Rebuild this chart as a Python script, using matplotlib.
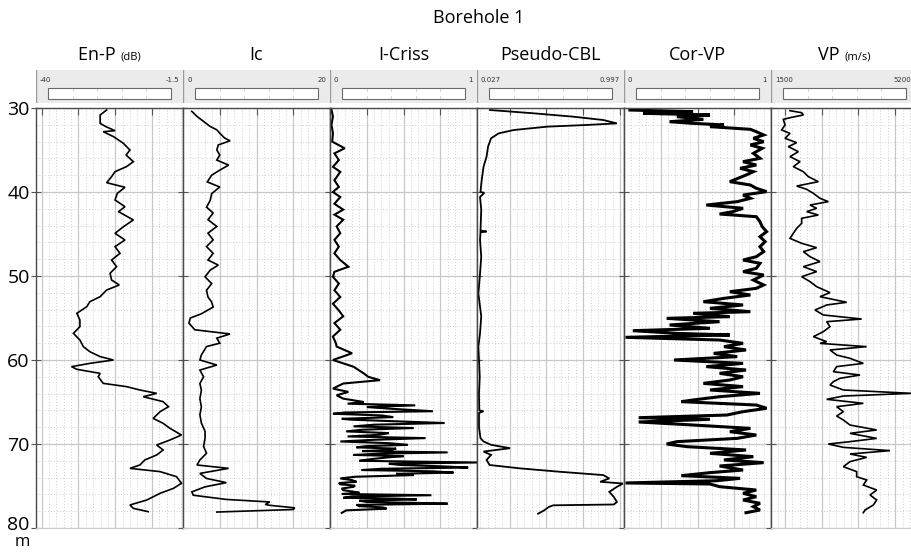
import matplotlib
matplotlib.use('Agg')
import matplotlib.pyplot as plt
import matplotlib.transforms as mtransforms
from matplotlib.patches import Rectangle
from matplotlib.ticker import MultipleLocator

plt.rcParams['font.family'] = ['Open Sans', 'DejaVu Sans']

# ---------------- data ----------------
chart_title = 'Borehole 1'
titles = ['En-P', 'Ic', 'I-Criss', 'Pseudo-CBL', 'Cor-VP', 'VP']
units = ['(dB)', '', '', '', '', '(m/s)']
scale_min = [-40, 0, 0, 0.027, 0, 1500]
scale_max = [-1.5, 20, 1, 0.997, 1, 5200]
scale_min_labels = ['-40', '0', '0', '0.027', '0', '1500']
scale_max_labels = ['-1.5', '20', '1', '0.997', '1', '5200']
depth_ticks = [30, 40, 50, 60, 70, 80]
depth_unit = 'm'

enp_depth = [30.24, 30.83, 31.83, 32.22, 32.70, 32.82, 33.41, 34.21, 35.0, 35.6, 36.39, 36.98,
             37.58, 38.17, 38.89, 39.44, 40.16, 40.95, 41.75, 42.34, 43.33, 44.13, 44.92,
             45.71, 46.51, 47.30, 48.10, 48.89, 49.68, 50.48, 51.07, 51.67, 52.46, 53.06,
             53.65, 54.44, 55.24, 56.03, 56.83, 57.62, 58.41, 59.01, 59.6, 60.0, 60.4, 60.79,
             61.11, 61.59, 61.99, 62.78, 63.17, 63.57, 63.97, 64.37, 64.96, 65.56, 66.15,
             66.95, 67.54, 68.14, 68.93, 69.52, 70.12, 70.71, 71.31, 71.9, 72.5, 72.9, 73.29,
             73.89, 74.68, 75.28, 75.87, 76.67, 77.26, 77.66, 78.06]
enp_value = [-21.5, -23.2, -23.2, -21.7, -19.3, -22.4, -19.7, -17.1, -15.4, -16.4, -14.5, -16.3,
             -19.3, -20.2, -21.5, -16.7, -18.7, -19.3, -16.7, -18.4, -14.5, -17.1, -19.3,
             -16.7, -19.3, -18.0, -20.2, -18.9, -20.6, -20.2, -18.2, -21.5, -23.2, -25.9,
             -26.7, -29.3, -28.5, -28.5, -30.2, -28.5, -27.6, -25.9, -23.2, -19.7, -25.9, -30.7,
             -29.3, -23.2, -23.7, -22.4, -16.3, -12.8, -8.4, -11.9, -6.7, -5.3, -7.5,
             -9.3, -6.7, -4.9, -1.9, -4.9, -8.4, -6.7, -8.4, -11.5, -12.8, -15.4, -7.5,
             -3.2, -1.9, -4.0, -7.5, -11.0, -15.4, -14.5, -10.6]

ic_depth = [30.4, 31.0, 31.6, 32.2, 32.6, 33.0, 33.6, 33.9, 34.4, 35.0, 35.6, 36.2, 36.8, 37.4,
            38.0, 38.8, 39.4, 40.2, 41.0, 41.8, 42.5, 43.3, 44.1, 44.9, 45.7, 46.5, 47.3, 48.1,
            48.7, 49.3, 50.1, 50.9, 51.7, 52.5, 53.1, 53.7, 54.5, 55.0, 55.6, 56.4, 56.9, 57.4,
            58.0, 58.4, 59.4, 60.0, 60.6, 61.2, 62.0, 62.8, 63.6, 64.6, 65.6, 66.5, 67.5, 68.5,
            69.3, 70.3, 71.1, 71.9, 72.5, 72.9, 73.5, 74.1, 74.6, 75.1, 75.7, 76.1, 76.6, 76.9,
            77.2, 77.3, 77.6, 77.8, 78.1]
ic_value = [1.2, 1.9, 2.8, 3.7, 4.6, 5.0, 5.7, 6.4, 4.8, 4.6, 5.0, 4.6, 6.2, 5.0,
            3.9, 3.3, 5.0, 3.9, 3.7, 3.2, 4.1, 3.4, 4.6, 3.4, 4.1, 3.2, 4.1, 3.4,
            4.8, 3.7, 3.0, 3.9, 3.2, 3.4, 3.9, 4.1, 2.5, 1.0, 0.8, 1.6, 6.4, 4.6,
            5.0, 3.2, 2.5, 2.3, 4.6, 2.3, 2.8, 2.3, 2.5, 2.3, 2.5, 2.3, 2.5, 3.0,
            3.0, 2.8, 3.2, 2.3, 1.9, 6.2, 2.3, 3.2, 5.9, 3.0, 1.2, 1.4, 5.9, 11.8,
            11.2, 11.8, 15.2, 15.0, 4.6]

icriss_depth = [30.2, 31.0, 32.0, 33.0, 34.0, 34.8, 35.4, 36.2, 37.0, 37.6, 38.6, 39.4, 40.0,
                40.6, 41.4, 42.1, 42.7, 43.3, 44.1, 44.9, 45.7, 46.5, 47.3, 48.1, 48.9, 49.5,
                50.1, 50.9, 51.7, 52.5, 53.3, 54.1, 54.8, 55.6, 56.4, 57.2, 58.0, 58.4, 59.2,
                60.0, 60.8, 61.6, 62.0, 62.4, 62.8, 63.4, 63.8, 64.2, 64.6, 65.0, 65.2, 65.4,
                65.6, 65.8, 66.1, 66.25, 66.4, 66.6, 66.8, 67.0, 67.1, 67.3, 67.5, 67.7, 67.9,
                68.1, 68.3, 68.5, 68.7, 68.9, 69.1, 69.3, 69.5, 69.7, 69.9, 70.1, 70.25, 70.4,
                70.55, 70.7, 70.85, 71.0, 71.15, 71.3, 71.45, 71.6, 71.8, 72.0, 72.2, 72.35,
                72.5, 72.65, 72.8, 72.95, 73.1, 73.25, 73.4, 73.55, 73.7, 73.9, 74.1, 74.3,
                74.5, 74.65, 74.8, 74.95, 75.1, 75.3, 75.5, 75.65, 75.8, 75.95, 76.1, 76.25,
                76.4, 76.5, 76.6, 76.75, 76.9, 77.0, 77.1, 77.25, 77.4, 77.55, 77.7, 77.9, 78.2]
icriss_value = [0.01, 0.02, 0.01, 0.02, 0.015, 0.10, 0.03, 0.06, 0.02, 0.07, 0.03, 0.06, 0.02,
                0.07, 0.03, 0.09, 0.03, 0.09, 0.045, 0.07, 0.03, 0.06, 0.03, 0.07, 0.125, 0.03,
                0.02, 0.06, 0.03, 0.07, 0.02, 0.06, 0.09, 0.03, 0.07, 0.02, 0.04, 0.045, 0.15,
                0.02, 0.16, 0.23, 0.26, 0.34, 0.09, 0.02, 0.125, 0.045, 0.09, 0.23, 0.12, 0.58,
                0.25, 0.41, 0.70, 0.10, 0.02, 0.35, 0.43, 0.08, 0.14, 0.45, 0.78, 0.30, 0.16,
                0.57, 0.22, 0.11, 0.40, 0.34, 0.12, 0.65, 0.30, 0.07, 0.40, 0.53, 0.25, 0.18,
                0.45, 0.41, 0.22, 0.80, 0.35, 0.16, 0.50, 0.39, 0.28, 0.20, 1.0, 0.40,
                0.48, 0.75, 0.94, 0.35, 0.215, 0.70, 0.84, 0.45, 0.57, 0.17, 0.07, 0.15,
                0.18, 0.06, 0.07, 0.17, 0.16, 0.08, 0.09, 0.15, 0.20, 0.08, 0.69, 0.15,
                0.09, 0.45, 0.59, 0.20, 0.25, 0.55, 0.80, 0.18, 0.20, 0.36, 0.385, 0.11, 0.08]

cbl_depth = [30.24, 30.63, 31.03, 31.43, 31.83, 32.02, 32.22, 32.62, 33.02, 33.6, 34.6, 35.8,
             37.0, 38.6, 40.0, 40.1, 40.6, 42.1, 44.6, 44.7, 44.8, 45.7, 47.7, 49.7, 52.1,
             54.8, 56.8, 58.4, 60.0, 62.0, 64.0, 66.0, 66.1, 66.3, 68.0, 69.3, 69.7, 70.1,
             70.5, 70.9, 71.3, 71.9, 72.5, 72.9, 73.3, 73.7, 74.1, 74.5, 74.7, 75.1, 75.7,
             76.3, 76.9, 77.2, 77.3, 77.5, 77.9, 78.3]
cbl_value = [0.113, 0.40, 0.66, 0.86, 0.95, 0.75, 0.49, 0.27, 0.17, 0.12, 0.10, 0.09,
             0.07, 0.058, 0.05, 0.075, 0.047, 0.055, 0.05, 0.09, 0.05, 0.047, 0.055, 0.047, 0.036,
             0.055, 0.047, 0.036, 0.04, 0.045, 0.04, 0.042, 0.07, 0.04, 0.04, 0.05, 0.07, 0.12,
             0.245, 0.07, 0.12, 0.09, 0.11, 0.31, 0.57, 0.86, 0.90, 0.84, 0.99, 0.95, 0.90,
             0.93, 0.95, 0.93, 0.53, 0.50, 0.47, 0.43]

corvp_depth = [30.24, 30.44, 30.63, 30.83, 31.03, 31.35, 31.63, 31.83, 32.02, 32.22, 32.54,
               32.82, 33.21, 33.61, 34.01, 34.4, 34.8, 35.4, 35.99, 36.39, 36.79, 37.18, 37.58,
               37.98, 38.77, 39.17, 39.56, 39.96, 40.36, 40.75, 41.15, 41.55, 41.94, 42.34,
               42.62, 42.94, 43.53, 44.13, 44.72, 45.32, 45.91, 46.51, 47.1, 47.7, 48.1, 48.49,
               49.09, 49.48, 49.88, 50.48, 51.07, 51.47, 51.87, 52.26, 52.66, 53.06, 53.45,
               53.85, 54.25, 54.44, 54.84, 55.04, 55.44, 55.83, 56.23, 56.51, 56.83, 57.02,
               57.3, 57.62, 58.02, 58.41, 58.81, 59.21, 59.6, 60.0, 60.4, 60.79, 61.19, 61.59,
               61.99, 62.38, 62.78, 63.17, 63.57, 63.97, 64.37, 64.76, 64.96, 65.36, 65.75,
               66.15, 66.55, 66.87, 67.06, 67.38, 67.74, 68.14, 68.53, 68.93, 69.33, 69.72,
               70.0, 70.32, 70.71, 71.11, 71.51, 71.9, 72.22, 72.62, 73.1, 73.41, 73.77, 74.09,
               74.37, 74.64, 74.76, 75.08, 75.48, 75.87, 76.27, 76.67, 77.06, 77.46, 77.86, 78.18]
corvp_value = [0.04, 0.47, 0.13, 0.585, 0.36, 0.54, 0.31, 0.47, 0.68, 0.585, 0.86,
               0.90, 0.95, 0.88, 0.95, 0.86, 0.94, 0.88, 0.925, 0.81, 0.90, 0.79, 0.88,
               0.83, 0.72, 0.86, 0.90, 0.97, 0.81, 0.86, 0.77, 0.56, 0.81, 0.74,
               0.65, 0.90, 0.925, 0.94, 0.97, 0.925, 0.96, 0.925, 0.95, 0.90, 0.81, 0.925,
               0.90, 0.81, 0.95, 0.88, 0.95, 0.90, 0.72, 0.86, 0.68, 0.54, 0.81,
               0.585, 0.86, 0.47, 0.72, 0.29, 0.65, 0.31, 0.585, 0.06, 0.36, 0.72,
               0.01, 0.65, 0.81, 0.68, 0.83, 0.61, 0.77, 0.34, 0.81, 0.56, 0.83, 0.65,
               0.81, 0.72, 0.54, 0.81, 0.585, 0.925, 0.65, 0.47, 0.39, 0.90, 0.97,
               0.81, 0.70, 0.10, 0.585, 0.10, 0.47, 0.86, 0.72, 0.90, 0.77, 0.36,
               0.29, 0.43, 0.83, 0.585, 0.88, 0.68, 0.95, 0.65, 0.81, 0.585, 0.39, 0.79,
               0.63, 0.01, 0.585, 0.65, 0.90, 0.81, 0.90, 0.81, 0.925, 0.88, 0.925, 0.83]

vp_depth = [30.32, 30.56, 30.83, 31.11, 31.35, 32.02, 32.62, 33.02, 33.61, 34.13, 34.6, 35.2,
            35.79, 36.39, 36.98, 37.58, 38.17, 38.77, 39.29, 39.68, 40.16, 40.75, 41.15,
            41.55, 41.94, 42.34, 42.74, 43.13, 43.73, 44.33, 44.92, 45.52, 46.11, 46.63,
            47.1, 47.7, 48.29, 48.89, 49.48, 50.08, 50.67, 51.27, 51.98, 52.46, 53.13, 53.45,
            54.05, 54.64, 55.12, 55.44, 56.03, 56.63, 57.22, 57.82, 58.02, 58.41, 58.81,
            59.41, 59.8, 60.4, 60.79, 61.39, 61.79, 62.18, 62.58, 62.98, 63.57, 63.97, 64.29,
            64.68, 65.16, 65.56, 66.15, 66.67, 67.14, 67.74, 68.33, 68.73, 69.33, 69.72,
            70.0, 70.4, 70.79, 71.19, 71.59, 72.1, 72.7, 73.29, 73.89, 74.29, 74.88, 75.48,
            76.07, 76.67, 77.26, 77.86, 78.18]
vp_value = [1978, 2272, 2314, 2020, 1810, 1852, 1768, 1978, 1852, 2146, 1936, 2188,
            1978, 2230, 2062, 2314, 2440, 2691, 2146, 2398, 2566, 2733, 2943,
            2482, 2649, 2398, 2691, 2272, 2272, 2146, 2062, 1978, 2272, 2649,
            2314, 2482, 2733, 2314, 2649, 2272, 2482, 2649, 2985, 2733, 3405, 2901,
            2607, 2817, 3782, 2901, 2985, 2817, 2566, 2901, 2733, 3908, 2985,
            3153, 3488, 3824, 3153, 3069, 3740, 3237, 3069, 2985, 3321, 5040, 3321,
            2901, 3824, 3153, 3321, 3153, 3321, 3488, 4160, 3488, 4160, 3488,
            2943, 3321, 4495, 3488, 3908, 3488, 3321, 3656, 3656, 3908, 3824, 4160,
            3992, 4160, 4076, 3866, 3824]

curves = [(enp_depth, enp_value), (ic_depth, ic_value), (icriss_depth, icriss_value),
          (cbl_depth, cbl_value), (corvp_depth, corvp_value), (vp_depth, vp_value)]
line_widths = [1.2, 1.2, 1.5, 1.3, 2.2, 1.2]

# ---------------- layout ----------------
W, H = 912, 552
fig = plt.figure(figsize=(W / 100, H / 100), dpi=100)


def frac(x0, y0, w, h):
    return [x0 / W, 1 - (y0 + h) / H, w / W, h / H]


X0, TW = 36, 147
PT, PH = 108, 420
TITLE_FS = 13
UNIT_FS = 8

fig.text(479 / W, 1 - 18 / H, chart_title, ha='center', va='center', fontsize=13)
renderer = fig.canvas.get_renderer()

for i in range(6):
    left = X0 + TW * i
    smin, smax = scale_min[i], scale_max[i]
    span = smax - smin

    # header box
    hax = fig.add_axes(frac(left, 70, TW, 33))
    hax.set_facecolor('#ebebeb')
    hax.set_xlim(0, TW)
    hax.set_ylim(33, 0)
    hax.set_xticks([])
    hax.set_yticks([])
    for s in hax.spines.values():
        s.set_visible(False)
    hax.axvline(0, color='#9a9a9a', lw=1.0)
    hax.add_patch(Rectangle((12, 18), TW - 24, 11, facecolor='white',
                            edgecolor='#6a6a6a', lw=0.8))
    for q in range(1, 5):
        xq = 12 + (TW - 24) * q / 5
        hax.plot([xq, xq], [19, 21], color='#cfcfcf', lw=0.6)
        hax.plot([xq, xq], [26, 28], color='#cfcfcf', lw=0.6)
    right_x = min(TW - 4, 912 - left - 1)
    hax.text(4, 10, scale_min_labels[i], fontsize=5, color='#333333',
             ha='left', va='center', family='DejaVu Sans')
    hax.text(right_x, 10, scale_max_labels[i], fontsize=5, color='#333333',
             ha='right', va='center', family='DejaVu Sans')

    # title
    ty = 1 - 55 / H
    if units[i]:
        t = fig.text(0, ty, titles[i] + ' ', fontsize=TITLE_FS, ha='left', va='center')
        u = fig.text(0, ty, units[i], fontsize=UNIT_FS, ha='left', va='center')
        bw = t.get_window_extent(renderer).width
        uw = u.get_window_extent(renderer).width
        start = (left + TW / 2) - (bw + uw) / 2
        t.set_position((start / W, ty))
        u.set_position(((start + bw) / W, ty - 0.003))
    else:
        fig.text((left + TW / 2) / W, ty, titles[i], fontsize=TITLE_FS,
                 ha='center', va='center')

    # track
    ax = fig.add_axes(frac(left, PT, TW, PH))
    ax.set_xlim(smin, smax)
    ax.set_ylim(80, 30)
    ax.set_facecolor('white')
    ax.xaxis.set_major_locator(MultipleLocator(span / 4))
    ax.xaxis.set_minor_locator(MultipleLocator(span / 20))
    ax.yaxis.set_major_locator(MultipleLocator(10))
    ax.yaxis.set_minor_locator(MultipleLocator(2))
    ax.grid(which='major', color='#c8c8c8', lw=0.9, ls='-')
    ax.grid(which='minor', color='#cfcfcf', lw=0.7, ls=(0, (1, 2)))
    ax.set_axisbelow(True)
    ax.tick_params(axis='x', which='major', direction='in', top=True, bottom=False,
                   length=5, color='#555555', labeltop=False, labelbottom=False)
    ax.tick_params(axis='x', which='minor', length=0)
    ax.tick_params(axis='y', which='minor', length=0)
    ax.tick_params(axis='y', which='major', direction='inout', length=7, color='#555555',
                   left=True, right=False, labelleft=(i == 0), labelsize=14, pad=1)
    for s in ['left', 'right', 'top']:
        ax.spines[s].set_color('#4a4a4a')
        ax.spines[s].set_linewidth(1.0)
    ax.spines['bottom'].set_color('#cccccc')
    if i == 0:
        ax.set_yticks(depth_ticks)
        ax.set_yticklabels([str(d) for d in depth_ticks])
        lab80 = ax.get_yticklabels()[-1]
        lab80.set_transform(lab80.get_transform() +
                            mtransforms.ScaledTranslation(0, 5 / 100, fig.dpi_scale_trans))
    d, v = curves[i]
    ax.plot(v, d, color='black', lw=line_widths[i], solid_joinstyle='miter', clip_on=True)

fig.text(22 / W, 1 - 541.5 / H, depth_unit, fontsize=12, ha='center', va='center')

fig.savefig('out.png', dpi=100)
